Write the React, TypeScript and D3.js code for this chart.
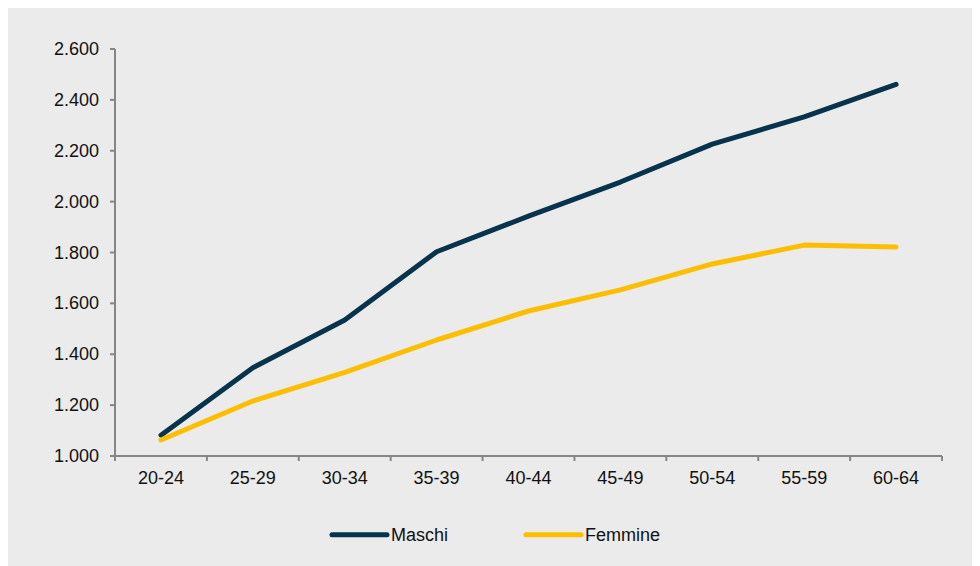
import React from "react";
import * as d3 from "d3";

const categories = ["20-24", "25-29", "30-34", "35-39", "40-44", "45-49", "50-54", "55-59", "60-64"];
const maschi = [1082, 1347, 1535, 1803, 1943, 2077, 2226, 2333, 2461];
const femmine = [1063, 1216, 1329, 1456, 1570, 1653, 1755, 1829, 1822];
const yTicks = [1000, 1200, 1400, 1600, 1800, 2000, 2200, 2400, 2600];
const seriesNames = ["Maschi", "Femmine"];

const W = 972;
const H = 558;
const left = 107;
const right = 934;
const top = 41;
const bottom = 448;

const colors = ["#07344C", "#FEBE00"];
const axisColor = "#868686";
const font = "'Liberation Sans', Arial, sans-serif";

export default function App() {
  const x = d3.scaleBand<string>().domain(categories).range([left, right]);
  const y = d3.scaleLinear().domain([1000, 2600]).range([bottom, top]);
  const fmt = (v: number) => d3.format(",")(v).replace(/,/g, ".");
  const line = d3
    .line<number>()
    .x((_, i) => (x(categories[i]) as number) + x.bandwidth() / 2)
    .y((d) => y(d));
  const series = [maschi, femmine];
  const boundaries = [...categories.map((c) => x(c) as number), right];

  const legendX = [324, 518];
  const legendY = 526.7;

  return (
    <svg width={W} height={H} style={{ display: "block" }}>
      <rect x={0} y={0} width={W} height={H} fill="#EAEBEA" />
      {/* y axis */}
      <line x1={left} x2={left} y1={top} y2={bottom} stroke={axisColor} strokeWidth={2} />
      {yTicks.map((t) => (
        <g key={t}>
          <line x1={left - 5} x2={left} y1={y(t)} y2={y(t)} stroke={axisColor} strokeWidth={2} />
          <text
            x={left - 16}
            y={y(t)}
            textAnchor="end"
            dominantBaseline="central"
            fontFamily={font}
            fontSize={18}
            fill="#111"
          >
            {fmt(t)}
          </text>
        </g>
      ))}
      {/* x axis */}
      <line x1={left} x2={right} y1={bottom} y2={bottom} stroke={axisColor} strokeWidth={2} />
      {boundaries.map((b, i) => (
        <line key={i} x1={b} x2={b} y1={bottom} y2={bottom + 5} stroke={axisColor} strokeWidth={2} />
      ))}
      {categories.map((c) => (
        <text
          key={c}
          x={(x(c) as number) + x.bandwidth() / 2}
          y={bottom + 28}
          textAnchor="middle"
          fontFamily={font}
          fontSize={18}
          fill="#111"
        >
          {c}
        </text>
      ))}
      {series.map((s, i) => (
        <path
          key={i}
          d={line(s) as string}
          fill="none"
          stroke={colors[i]}
          strokeWidth={5}
          strokeLinecap="round"
          strokeLinejoin="round"
        />
      ))}
      {seriesNames.map((n, i) => (
        <g key={n}>
          <line
            x1={legendX[i]}
            x2={legendX[i] + 55}
            y1={legendY}
            y2={legendY}
            stroke={colors[i]}
            strokeWidth={5}
            strokeLinecap="round"
          />
          <text
            x={legendX[i] + 59}
            y={legendY}
            dominantBaseline="central"
            fontFamily={font}
            fontSize={18}
            fill="#111"
          >
            {n}
          </text>
        </g>
      ))}
    </svg>
  );
}
